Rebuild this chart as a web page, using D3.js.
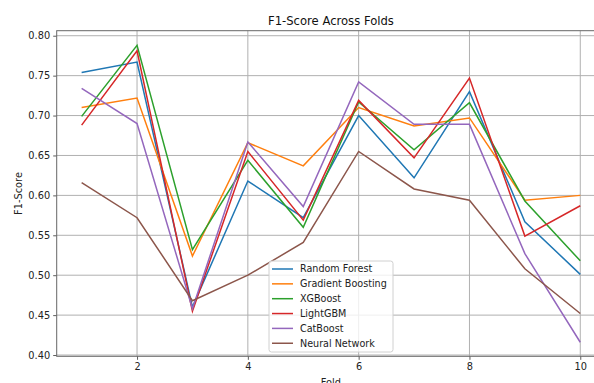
<!DOCTYPE html>
<html>
<head>
<meta charset="utf-8">
<script src="https://cdn.jsdelivr.net/npm/d3@7"></script>
<style>
  body { margin: 0; background: #fff; }
  svg { display: block; font-family: "DejaVu Sans", sans-serif; }
</style>
</head>
<body>
<svg id="chart" width="594" height="383"></svg>
<script>
// folds 1..10
var folds = [1, 2, 3, 4, 5, 6, 7, 8, 9, 10];
var models = ['Random Forest', 'Gradient Boosting', 'XGBoost', 'LightGBM', 'CatBoost', 'Neural Network'];
var colors = ['#1f77b4', '#ff7f0e', '#2ca02c', '#d62728', '#9467bd', '#8c564b'];

var randomForest     = [0.754, 0.767, 0.460, 0.618, 0.572, 0.700, 0.622, 0.730, 0.567, 0.501];
var gradientBoosting = [0.710, 0.722, 0.524, 0.666, 0.637, 0.710, 0.687, 0.697, 0.594, 0.600];
var xgBoost          = [0.699, 0.788, 0.532, 0.644, 0.560, 0.717, 0.657, 0.716, 0.593, 0.518];
var lightGBM         = [0.688, 0.781, 0.455, 0.655, 0.569, 0.719, 0.647, 0.747, 0.549, 0.587];
var catBoost         = [0.734, 0.690, 0.458, 0.667, 0.586, 0.742, 0.689, 0.689, 0.527, 0.416];
var neuralNetwork    = [0.616, 0.572, 0.468, 0.500, 0.541, 0.655, 0.608, 0.594, 0.508, 0.452];

var series = [randomForest, gradientBoosting, xgBoost, lightGBM, catBoost, neuralNetwork];

var xTicks = [2, 4, 6, 8, 10];
var yTicks = [0.40, 0.45, 0.50, 0.55, 0.60, 0.65, 0.70, 0.75, 0.80];

var svg = d3.select('#chart');
// plot area (window.top is read-only, so prefixed names)
var pLeft = 56.7, pRight = 605.2, pTop = 30.7, pBottom = 356.3;

var x = d3.scaleLinear().domain([0.55, 10.45]).range([pLeft, pRight]);
var y = d3.scaleLinear().domain([0.3984, 0.8063]).range([pBottom, pTop]);

// grid
svg.append('g')
    .selectAll('line')
    .data(xTicks)
    .enter().append('line')
    .attr('x1', function (d) { return x(d); })
    .attr('x2', function (d) { return x(d); })
    .attr('y1', pTop).attr('y2', pBottom)
    .attr('stroke', '#b0b0b0')
    .attr('stroke-width', 1);

svg.append('g')
    .selectAll('line')
    .data(yTicks)
    .enter().append('line')
    .attr('x1', pLeft).attr('x2', pRight)
    .attr('y1', function (d) { return y(d); })
    .attr('y2', function (d) { return y(d); })
    .attr('stroke', '#b0b0b0')
    .attr('stroke-width', 1);

// axes
var xAxis = svg.append('g')
    .attr('transform', 'translate(0,' + pBottom + ')')
    .call(d3.axisBottom(x).tickValues(xTicks).tickSize(3.5).tickPadding(3).tickFormat(d3.format('d')));

var yAxis = svg.append('g')
    .attr('transform', 'translate(' + pLeft + ',0)')
    .call(d3.axisLeft(y).tickValues(yTicks).tickSize(3.5).tickPadding(3).tickFormat(d3.format('.2f')));

[xAxis, yAxis].forEach(function (g) {
    g.select('.domain').remove();
    g.selectAll('.tick line').attr('stroke', '#333').attr('stroke-width', 0.8);
    g.selectAll('.tick text').attr('fill', '#222').style('font-size', '9.8px')
        .style('font-family', '"DejaVu Sans", sans-serif');
});

// lines
var line = d3.line()
    .x(function (d, i) { return x(folds[i]); })
    .y(function (d) { return y(d); });

svg.append('g')
    .selectAll('path')
    .data(series)
    .enter().append('path')
    .attr('d', line)
    .attr('fill', 'none')
    .attr('stroke', function (d, i) { return colors[i]; })
    .attr('stroke-width', 1.5)
    .attr('stroke-linejoin', 'miter');

// spines
svg.append('rect')
    .attr('x', pLeft).attr('y', pTop)
    .attr('width', pRight - pLeft).attr('height', pBottom - pTop)
    .attr('fill', 'none')
    .attr('stroke', '#666')
    .attr('stroke-width', 1);

// legend
var legend = svg.append('g').attr('transform', 'translate(269,261)');
legend.append('rect')
    .attr('width', 124).attr('height', 91)
    .attr('rx', 2.5)
    .attr('fill', 'rgba(255,255,255,0.8)')
    .attr('stroke', '#d0d0d0')
    .attr('stroke-width', 1);

var items = legend.selectAll('.item')
    .data(models)
    .enter().append('g')
    .attr('class', 'item')
    .attr('transform', function (d, i) { return 'translate(0,' + (8 + i * 14.85) + ')'; });

items.append('line')
    .attr('x1', 3).attr('x2', 24)
    .attr('stroke', function (d, i) { return colors[i]; })
    .attr('stroke-width', 1.5);

items.append('text')
    .attr('x', 31)
    .attr('dy', '0.35em')
    .style('font-size', '9.6px')
    .attr('fill', '#222')
    .text(function (d) { return d; });

// labels
svg.append('text')
    .attr('x', (pLeft + pRight) / 2)
    .attr('y', 25)
    .attr('text-anchor', 'middle')
    .style('font-size', '11.6px')
    .attr('fill', '#111')
    .text('F1-Score Across Folds');

svg.append('text')
    .attr('x', (pLeft + pRight) / 2)
    .attr('y', 386)
    .attr('text-anchor', 'middle')
    .style('font-size', '9.8px')
    .attr('fill', '#222')
    .text('Fold');

svg.append('text')
    .attr('transform', 'translate(22,' + ((pTop + pBottom) / 2) + ')rotate(-90)')
    .attr('text-anchor', 'middle')
    .style('font-size', '9.8px')
    .attr('fill', '#222')
    .text('F1-Score');
</script>
</body>
</html>
